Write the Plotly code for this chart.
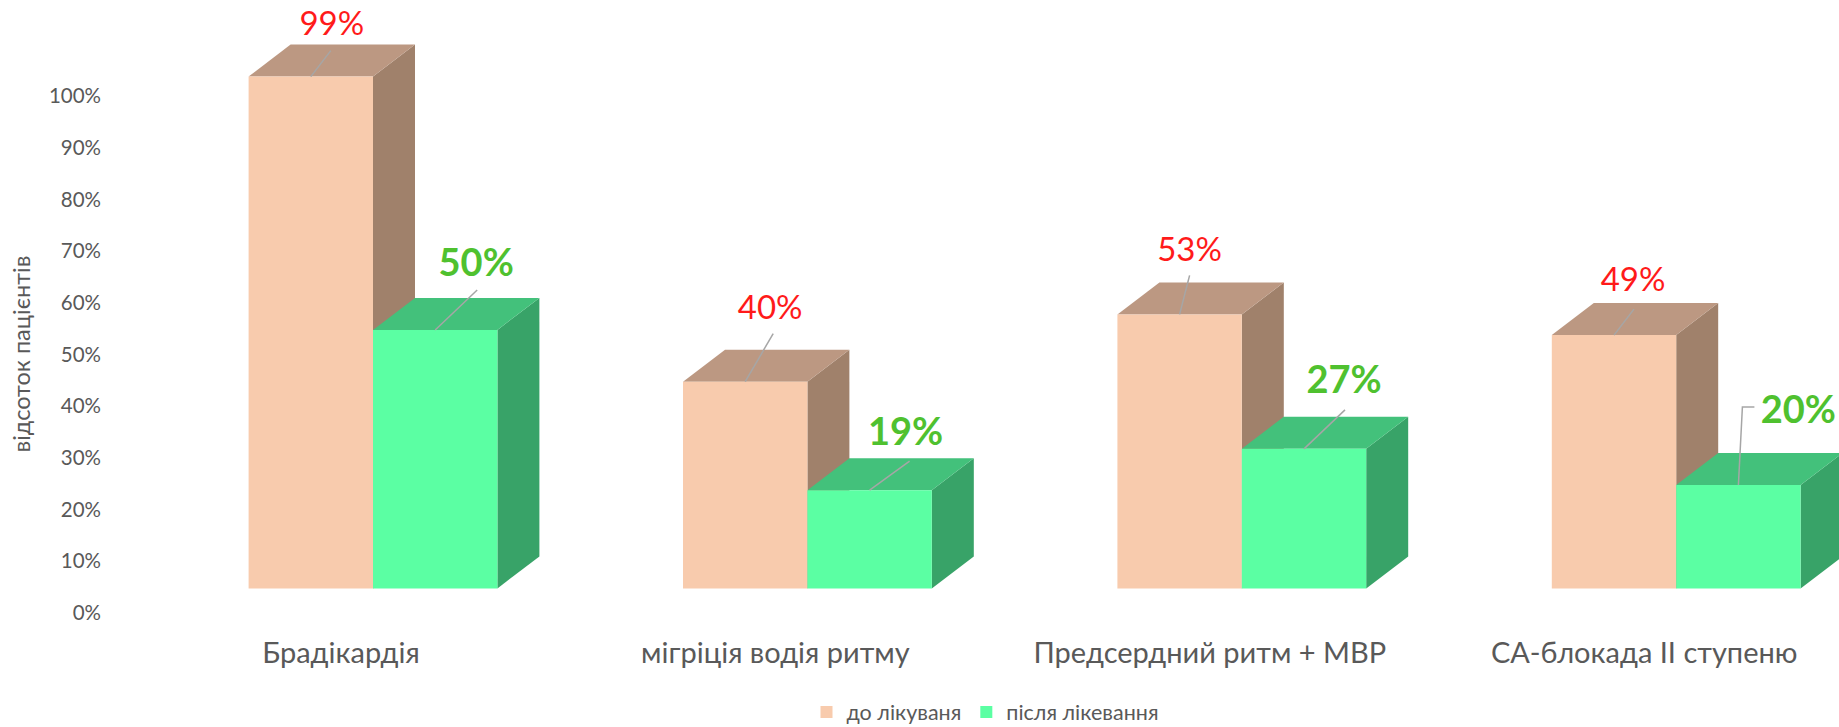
"""3D-look grouped columns: share of patients before and after treatment."""

import plotly.graph_objects as go

CATEGORIES = [
    "Брадікардія",
    "мігріція водія ритму",
    "Предсердний ритм + МВР",
    "СА-блокада II ступеню",
]
BEFORE = [99, 40, 53, 49]
AFTER = [50, 19, 27, 20]
BEFORE_NAME = "до лікуваня"
AFTER_NAME = "після лікевання"
Y_TICKS = list(range(0, 101, 10))
Y_TICK_LABELS = [f"{tick}%" for tick in Y_TICKS]

# Geometry of the fake 3D box, in axis units.
PX_X = 1 / 434.4  # one pixel on the x axis
PX_Y = 1 / 5.17  # one pixel on the y axis
FLOOR = 4.75  # columns stand above the 0% line
BAR_WIDTH = 124.4 * PX_X
BEFORE_LEFT = -92.4 * PX_X
AFTER_LEFT = BEFORE_LEFT + BAR_WIDTH
DEPTH_X = 42 * PX_X
DEPTH_Y = 32 * PX_Y

# Leader end and label centre, in pixels from the middle of each column top.
BEFORE_LEADER = [(20, 26), (28, 48), (10, 39), (20, 26)]
BEFORE_LABEL = [(21, 50), (25, 71), (10, 62), (19, 52)]
AFTER_LEADER = [(42, 40), (40, 29), (41, 39), (16, 78)]
AFTER_LABEL = [(41, 63), (36, 55), (40, 65), (60, 72)]

COLORS = {
    "before": {"front": "#F8CBAD", "top": "#BC9882", "side": "#A0816B"},
    "after": {"front": "#5BFFA3", "top": "#43C17B", "side": "#38A368"},
}
FONT = "Lato, 'Open Sans', sans-serif"
GREY = "#595959"


def add_faces(fig, values, left, palette):
    """Draw the side and top faces of one series from its values."""
    for i, value in enumerate(values):
        x0 = i + left
        x1 = x0 + BAR_WIDTH
        top = value + FLOOR
        fig.add_scatter(
            x=[x1, x1 + DEPTH_X, x1 + DEPTH_X, x1, x1],
            y=[FLOOR, FLOOR + DEPTH_Y, top + DEPTH_Y, top, FLOOR],
            fill="toself",
            fillcolor=palette["side"],
            mode="none",
            showlegend=False,
            hoverinfo="skip",
        )
        fig.add_scatter(
            x=[x0, x1, x1 + DEPTH_X, x0 + DEPTH_X, x0],
            y=[top, top, top + DEPTH_Y, top + DEPTH_Y, top],
            fill="toself",
            fillcolor=palette["top"],
            mode="none",
            showlegend=False,
            hoverinfo="skip",
        )


def add_labels(fig, values, left, leaders, labels, font):
    """Draw leader lines and value labels above the front faces."""
    for i, value in enumerate(values):
        x = i + left + BAR_WIDTH / 2
        y = value + FLOOR
        end_x = x + leaders[i][0] * PX_X
        end_y = y + leaders[i][1] * PX_Y
        line_x = [x, end_x]
        line_y = [y, end_y]
        if i == 3 and values is AFTER:
            # this leader has an elbow because its label sits to the side
            line_x = [x, end_x - 12 * PX_X, end_x]
            line_y = [y, end_y, end_y]
        fig.add_scatter(
            x=line_x,
            y=line_y,
            mode="lines",
            line={"color": "#A6A6A6", "width": 1.5},
            xaxis="x2",
            yaxis="y2",
            showlegend=False,
            hoverinfo="skip",
        )
        fig.add_scatter(
            x=[x + labels[i][0] * PX_X],
            y=[y + labels[i][1] * PX_Y],
            mode="text",
            text=[f"{value}%"],
            textposition="middle center",
            textfont=font,
            xaxis="x2",
            yaxis="y2",
            showlegend=False,
            hoverinfo="skip",
        )


fig = go.Figure()

# Back faces go on the main axes so the front bars on the overlay cover them.
add_faces(fig, BEFORE, BEFORE_LEFT, COLORS["before"])
add_faces(fig, AFTER, AFTER_LEFT, COLORS["after"])

x_index = list(range(len(CATEGORIES)))
fig.add_bar(
    x=x_index,
    y=BEFORE,
    base=FLOOR,
    width=BAR_WIDTH,
    offset=BEFORE_LEFT,
    name=BEFORE_NAME,
    marker={"color": COLORS["before"]["front"], "line": {"width": 0}},
    xaxis="x2",
    yaxis="y2",
)
fig.add_bar(
    x=x_index,
    y=AFTER,
    base=FLOOR,
    width=BAR_WIDTH,
    offset=AFTER_LEFT,
    name=AFTER_NAME,
    marker={"color": COLORS["after"]["front"], "line": {"width": 0}},
    xaxis="x2",
    yaxis="y2",
)

add_labels(
    fig, BEFORE, BEFORE_LEFT, BEFORE_LEADER, BEFORE_LABEL,
    {"family": FONT, "size": 33, "color": "#FF1A1A"},
)
add_labels(
    fig, AFTER, AFTER_LEFT, AFTER_LEADER, AFTER_LABEL,
    {"family": FONT, "size": 38, "color": "#4FC12F", "weight": "bold"},
)

fig.update_layout(
    width=1839,
    height=727,
    margin={"l": 106, "r": 0, "t": 0, "b": 114},
    paper_bgcolor="white",
    plot_bgcolor="white",
    barmode="overlay",
    font={"family": FONT, "color": GREY},
    xaxis={
        "range": [-235 * PX_X, 1498 * PX_X],
        "tickvals": x_index,
        "ticktext": CATEGORIES,
        "tickfont": {"size": 29, "color": GREY},
        "ticks": "outside",
        "ticklen": 14,
        "tickcolor": "rgba(0,0,0,0)",
        "showgrid": False,
        "zeroline": False,
        "showline": False,
    },
    yaxis={
        "range": [0, 613 * PX_Y],
        "tickvals": Y_TICKS,
        "ticktext": Y_TICK_LABELS,
        "tickfont": {"size": 20.5, "color": GREY},
        "ticklabelstandoff": 4,
        "showgrid": False,
        "zeroline": False,
        "showline": False,
    },
    xaxis2={"overlaying": "x", "matches": "x", "visible": False},
    yaxis2={"overlaying": "y", "matches": "y", "visible": False},
    legend={
        "orientation": "h",
        "xref": "container",
        "yref": "container",
        "x": 985 / 1839,
        "y": 15 / 727,
        "xanchor": "center",
        "yanchor": "middle",
        "font": {"size": 21.5, "color": GREY},
        "traceorder": "normal",
    },
    annotations=[
        {
            "text": "відсоток пацієнтів",
            "xref": "paper",
            "yref": "y",
            "x": -102 / 1733,
            "y": 50,
            "textangle": -90,
            "showarrow": False,
            "font": {"size": 23.5, "color": GREY},
        }
    ],
)

fig.write_html(
    "out.html",
    config={"displayModeBar": False},
    post_script="document.body.style.margin='0';document.body.style.overflow='hidden';",
)
